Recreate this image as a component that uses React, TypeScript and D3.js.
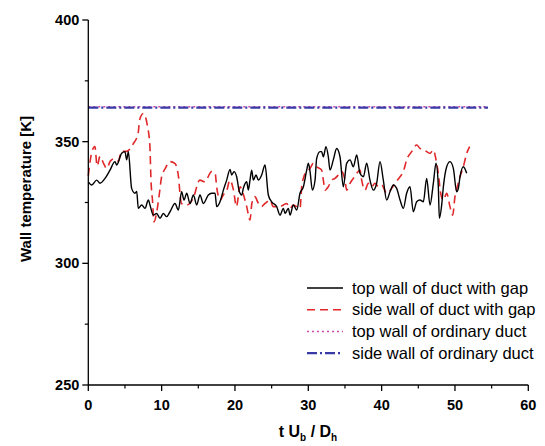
import React from "react";
import * as d3 from "d3";

// ---- data ----
const topGapT = [0, 0.46, 1.14, 1.6, 2.28, 2.96, 3.64, 3.87, 4.55, 5.0, 5.23, 5.46, 5.91, 6.37, 6.6, 6.82, 7.28, 7.73, 8.19, 8.41, 8.87, 9.32, 9.78, 10.23, 10.69, 11.14, 11.82, 12.28, 12.73, 13.05, 13.42, 13.87, 14.33, 14.78, 15.23, 15.69, 16.37, 16.82, 17.28, 17.51, 17.96, 18.42, 18.87, 19.33, 19.55, 19.87, 20.23, 20.6, 20.92, 21.14, 21.6, 21.82, 22.05, 22.28, 22.51, 22.87, 23.19, 23.64, 24.1, 24.55, 25.01, 25.69, 26.14, 26.6, 26.83, 27.28, 27.51, 27.96, 28.42, 28.87, 29.33, 29.78, 30.01, 30.24, 30.55, 30.92, 31.14, 31.6, 31.82, 32.05, 32.41, 32.73, 32.96, 33.41, 33.87, 34.32, 34.78, 35.23, 35.69, 36.14, 36.6, 37.05, 37.51, 37.96, 38.41, 38.87, 39.32, 39.78, 40.23, 40.69, 41.14, 41.6, 42.05, 42.51, 42.96, 43.41, 43.87, 44.32, 44.78, 45.23, 45.69, 46.14, 46.6, 47.05, 47.42, 47.73, 47.87, 48.19, 48.42, 48.87, 49.32, 49.78, 50.23, 50.46, 50.69, 51.14, 51.6];
const topGapK = [333.5, 332.2, 334.2, 332.9, 334.9, 338.3, 341.8, 340.4, 345.2, 345.9, 342.5, 345.9, 330.8, 328.8, 329.5, 322.6, 324.0, 322.6, 326.0, 324.0, 319.8, 320.5, 318.5, 320.5, 319.2, 321.2, 324.6, 321.9, 329.4, 326.0, 328.8, 324.6, 328.1, 324.0, 328.1, 324.6, 328.1, 328.8, 328.8, 323.3, 325.3, 330.1, 334.2, 338.6, 336.3, 337.7, 335.6, 329.4, 328.1, 330.8, 333.5, 330.1, 334.2, 338.3, 334.2, 336.3, 334.2, 336.3, 340.4, 328.1, 325.3, 323.3, 319.8, 322.6, 320.5, 322.6, 319.8, 324.0, 321.9, 328.8, 331.5, 338.3, 341.1, 337.7, 330.1, 334.2, 343.1, 345.9, 345.9, 343.8, 347.9, 343.8, 338.3, 342.5, 347.2, 343.8, 331.5, 341.1, 342.5, 339.7, 344.5, 337.0, 335.6, 341.1, 334.2, 330.1, 332.9, 341.8, 334.2, 326.0, 329.4, 332.2, 330.8, 326.0, 322.6, 328.8, 331.5, 321.2, 325.3, 326.0, 325.3, 334.9, 324.0, 332.9, 341.1, 331.5, 318.5, 324.0, 331.5, 339.7, 341.8, 339.0, 329.4, 330.8, 335.6, 339.7, 337.0];

const sideGapT = [0, 0.5, 0.9, 1.2, 1.6, 2.1, 2.5, 3.0, 3.6, 4.1, 4.5, 5.2, 6.1, 6.8, 7.0, 7.5, 8.0, 8.4, 8.55, 8.75, 8.95, 9.3, 9.7, 10.0, 10.5, 11.1, 11.8, 12.3, 12.5, 12.7, 13.4, 14.3, 15.2, 15.9, 16.8, 17.3, 17.5, 18.0, 18.4, 18.9, 19.3, 19.8, 20.2, 20.7, 21.1, 21.6, 22.05, 22.3, 22.7, 23.2, 23.6, 24.1, 24.8, 25.2, 25.7, 26.14, 26.6, 27.05, 27.5, 27.96, 28.87, 29.1, 29.32, 29.78, 30.23, 30.69, 31.14, 31.82, 32.05, 32.28, 32.73, 33.19, 33.64, 34.1, 34.55, 35.0, 35.23, 35.69, 36.14, 36.6, 37.05, 37.28, 37.73, 38.19, 38.64, 39.1, 39.55, 40.0, 40.69, 41.37, 41.82, 42.51, 42.96, 43.41, 44.1, 44.78, 45.23, 45.69, 46.14, 46.6, 47.05, 47.42, 47.73, 48.05, 48.42, 48.87, 49.32, 49.69, 50.0, 50.32, 50.69, 51.14, 51.6, 52.0];
const sideGapK = [336, 346, 348, 340, 344, 341, 339, 342, 343, 342, 346, 346, 349, 353.5, 359, 361.6, 357.5, 348, 334, 326, 317, 320.5, 328.8, 335.6, 339, 341.8, 341.1, 335.6, 328.8, 324.6, 323.9, 326.7, 334.2, 333.5, 337.7, 337, 331.5, 326, 328.1, 330.1, 334.2, 330.1, 323.3, 331.5, 328.8, 323.3, 317.8, 324.6, 327.4, 324.6, 323.3, 324.6, 326, 323.3, 323.3, 323.3, 324.0, 324.6, 322.6, 324.0, 322.6, 331.5, 334.9, 337.7, 339.0, 341.1, 339.7, 338.3, 334.2, 330.1, 331.5, 334.2, 334.9, 336.3, 337.7, 334.2, 330.1, 332.9, 334.9, 337.0, 338.3, 334.2, 330.1, 332.9, 331.5, 332.9, 331.5, 332.2, 328.8, 330.8, 332.9, 335.6, 337.7, 342.5, 345.9, 348.6, 347.2, 346.6, 345.9, 345.2, 346.6, 342.5, 337.0, 328.8, 326.0, 328.8, 323.3, 319.8, 327.4, 331.5, 335.6, 339.7, 345.2, 348];

const ordTopT = [0, 54.5];
const ordTopK = [364.3, 364.3];
const ordSideT = [0, 54.5];
const ordSideK = [364.0, 364.0];

const xTicks = [0, 10, 20, 30, 40, 50, 60];
const xMinor = [5, 15, 25, 35, 45, 55];
const yTicks = [250, 300, 350, 400];
const yMinor = [275, 325, 375];

const legendLabels = [
  "top wall of duct with gap",
  "side wall of duct with gap",
  "top wall of ordinary duct",
  "side wall of ordinary duct",
];

const FONT = "'Liberation Sans', Arial, sans-serif";

type S = { t: number[]; k: number[]; color: string; dash: string; width: number };

export default function App() {
  const W = 545, H = 446;
  const x = d3.scaleLinear().domain([0, 60]).range([88.3, 528.3]);
  const y = d3.scaleLinear().domain([250, 400]).range([385, 20]);
  const line = (t: number[], k: number[]) =>
    d3.line<number>().x((_, i) => x(t[i])).y((v) => y(v)).curve(d3.curveMonotoneX)(k) || "";

  const series: S[] = [
    { t: ordTopT, k: ordTopK, color: "#d04aa8", dash: "2,3", width: 1.5 },
    { t: ordSideT, k: ordSideK, color: "#3a3aa6", dash: "10,3,2,3", width: 2.2 },
    { t: sideGapT, k: sideGapK, color: "#e0282a", dash: "8,5", width: 1.6 },
    { t: topGapT, k: topGapK, color: "#000000", dash: "", width: 1.4 },
  ];
  const legendStyles = [series[3], series[2], series[0], series[1]];
  const y0 = y(250);
  const x0 = x(0);

  return (
    <svg width={W} height={H} style={{ position: "absolute", left: 0, top: 0, background: "#fff" }} fontFamily={FONT}>
      <rect width={W} height={H} fill="#fff" />
      {series.map((s, i) => (
        <path key={i} d={line(s.t, s.k)} fill="none" stroke={s.color} strokeWidth={s.width}
          strokeDasharray={s.dash || undefined} strokeLinejoin="round" />
      ))}
      {/* axes */}
      <line x1={x0} x2={x0} y1={y(400)} y2={y0} stroke="#000" strokeWidth={1.3} />
      <line x1={x0} x2={x(60)} y1={y0} y2={y0} stroke="#000" strokeWidth={1.3} />
      {yTicks.map((v) => (
        <g key={"yt" + v}>
          <line x1={x0 - 6} x2={x0} y1={y(v)} y2={y(v)} stroke="#000" strokeWidth={1.3} />
          <text x={x0 - 9} y={y(v)} dy="0.35em" textAnchor="end" fontSize={14.5} fontWeight="bold">{v}</text>
        </g>
      ))}
      {yMinor.map((v) => (
        <line key={"ym" + v} x1={x0 - 3.5} x2={x0} y1={y(v)} y2={y(v)} stroke="#000" strokeWidth={1.2} />
      ))}
      {xTicks.map((v) => (
        <g key={"xt" + v}>
          <line x1={x(v)} x2={x(v)} y1={y0} y2={y0 + 6} stroke="#000" strokeWidth={1.3} />
          <text x={x(v)} y={y0 + 25} textAnchor="middle" fontSize={14.5} fontWeight="bold">{v}</text>
        </g>
      ))}
      {xMinor.map((v) => (
        <line key={"xm" + v} x1={x(v)} x2={x(v)} y1={y0} y2={y0 + 3.5} stroke="#000" strokeWidth={1.2} />
      ))}
      {/* axis titles */}
      <text x={308} y={437} textAnchor="middle" fontSize={16} fontWeight="bold">
        <tspan>t U</tspan>
        <tspan fontSize={10} dy={4}>b</tspan>
        <tspan dy={-4}> / D</tspan>
        <tspan fontSize={10} dy={4}>h</tspan>
      </text>
      <text transform="translate(31,189) rotate(-90)" textAnchor="middle" fontSize={15} fontWeight="bold">
        Wall temperature [K]
      </text>
      {/* legend */}
      {legendLabels.map((lab, i) => {
        const ly = 288 + i * 21.7;
        const s = legendStyles[i];
        return (
          <g key={lab}>
            <line x1={307} x2={343} y1={ly} y2={ly} stroke={s.color} strokeWidth={s.width}
              strokeDasharray={s.dash || undefined} />
            <text x={352} y={ly} dy="0.35em" fontSize={16.5}>{lab}</text>
          </g>
        );
      })}
    </svg>
  );
}
